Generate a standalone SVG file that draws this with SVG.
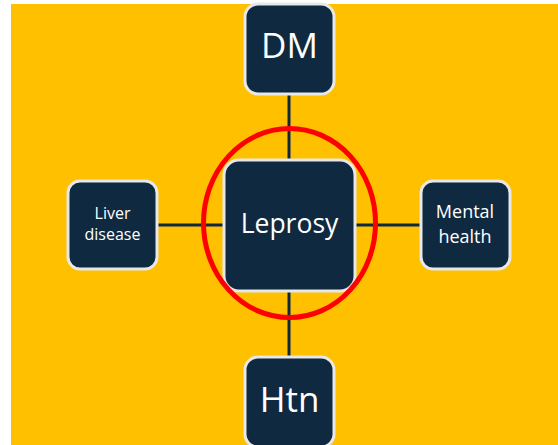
<svg xmlns="http://www.w3.org/2000/svg" width="558" height="445" viewBox="0 0 558 445">
<style>
.box{fill:#0F2941;stroke:#E8E8E8;stroke-width:3}
.lbl{fill:#FFFFFF;font-family:"Open Sans","Noto Sans",sans-serif;text-anchor:middle}
.con{stroke:#0F2941;stroke-width:3;fill:none}
</style>
<rect x="0" y="0" width="558" height="445" fill="#FFFFFF"/>
<rect x="11" y="4" width="547" height="441" fill="#FFC000"/>
<g id="connectors">
<line class="con" x1="289" y1="95" x2="289" y2="159"/>
<line class="con" x1="289" y1="292" x2="289" y2="357"/>
<line class="con" x1="158" y1="225" x2="223" y2="225"/>
<line class="con" x1="356" y1="225" x2="420" y2="225"/>
</g>
<g id="dm">
<rect class="box" x="245" y="4" width="89" height="90" rx="13"/>
<text class="lbl" x="289.5" y="58" font-size="35">DM</text>
</g>
<g id="liver">
<rect class="box" x="68" y="181" width="89" height="88" rx="12"/>
<text class="lbl" x="112.5" y="218.5" font-size="16">Liver</text>
<text class="lbl" x="112.5" y="240" font-size="16">disease</text>
</g>
<g id="mental">
<rect class="box" x="421" y="181" width="89" height="88" rx="12"/>
<text class="lbl" x="465" y="218" font-size="18">Mental</text>
<text class="lbl" x="465" y="243" font-size="18">health</text>
</g>
<g id="leprosy">
<rect class="box" x="224" y="160" width="131" height="131" rx="15"/>
<text class="lbl" x="289.5" y="233" font-size="26.5">Leprosy</text>
</g>
<g id="htn">
<rect class="box" x="245" y="357" width="89" height="90" rx="13"/>
<text class="lbl" x="289.5" y="412" font-size="35">Htn</text>
</g>
<g id="highlight">
<ellipse cx="289.5" cy="223" rx="86" ry="94.5" fill="none" stroke="#FF0000" stroke-width="5"/>
</g>
</svg>
